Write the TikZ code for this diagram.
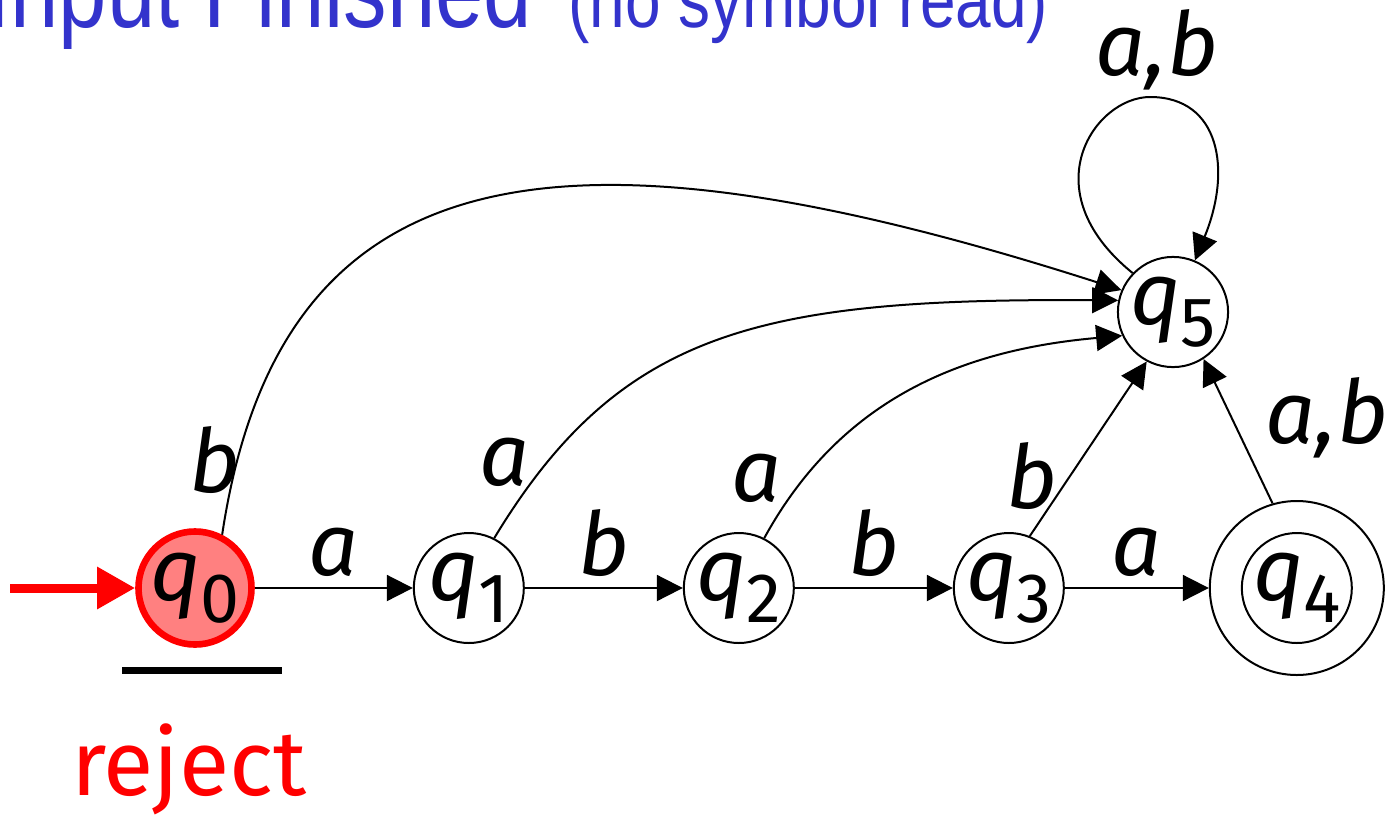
\documentclass[tikz,border=0pt]{standalone}
\usepackage{fontspec}
\usepackage{xcolor}
\usetikzlibrary{arrows.meta,positioning}
\newfontfamily\comicfont{Fira Sans}
\newfontfamily\titlefont{Liberation Sans}
\definecolor{cred}{HTML}{FF0000}
\definecolor{credL}{HTML}{FF8080}
\definecolor{cblue}{HTML}{3333CC}
\newcommand\stq[1]{q\kern-0.5pt\raisebox{-11pt}{\upshape\fontsize{35}{35}\selectfont #1}}
\tikzset{
  st/.style={draw, circle, line width=1pt, minimum size=55pt, inner sep=0pt,
             font=\comicfont\itshape\fontsize{44}{44}\selectfont},
  stnow/.style={st, draw=cred, fill=credL, line width=3.3pt, minimum size=54.7pt},
  stacc/.style={st, minimum size=87pt,
                path picture={\draw[line width=1pt] (path picture bounding box.center) circle[radius=27.5pt];}},
  lbl/.style={inner sep=0pt, font=\comicfont\itshape\fontsize{44}{44}\selectfont},
  ttl/.style={inner sep=0pt, text=cblue, font=\titlefont\fontsize{53}{53}\selectfont},
  ttlsmall/.style={ttl, font=\titlefont\fontsize{39}{39}\selectfont},
  rej/.style={inner sep=0pt, text=cred, font=\comicfont\fontsize{46}{46}\selectfont},
  trans/.style={-{Triangle[length=13pt,width=13pt]}, line width=1pt},
  startarr/.style={-{Triangle[length=19pt,width=20pt]}, line width=4.5pt, draw=cred},
}
\begin{document}
\begin{tikzpicture}[x=0.5pt, y=-0.5pt, node distance=79pt]
  \useasboundingbox (0,0) rectangle (1397,815);
  % title, cut by the page edge
  \node[ttl, anchor=base west] (ttl) at (-14,27) {\scalebox{0.82}[1]{Input Finished}};
  \node[ttlsmall, anchor=base west] (ttl2) at (568,27) {\scalebox{0.82}[1]{(no symbol read)}};
  % states
  \node[stnow] (q0) at (195,588) {\stq{0}};
  \node[st, right=of q0] (q1) {\stq{1}};
  \node[st, right=of q1] (q2) {\stq{2}};
  \node[st, right=of q2] (q3) {\stq{3}};
  \node[stacc, right=72pt of q3] (q4) {\stq{4}};
  \node[st] (q5) at (1173,312) {\stq{5}};
  % start arrow
  \coordinate (start) at (10,588);
  \draw[startarr] (start) -- (q0);
  % transitions
  \foreach \p/\q/\l in {q0/q1/a,q1/q2/b,q2/q3/b,q3/q4/a}
    \draw[trans] (\p) -- node[lbl, above=5pt] (l\p) {\l} (\q);
  \draw[trans] (q0.63) .. controls (280,150) and (560,110) .. (q5.157);
  \draw[trans] (q1.63) .. controls (620,330) and (760,298) .. (q5.168);
  \draw[trans] (q2.63) .. controls (840,400) and (960,350) .. (q5.205);
  \draw[trans] (q3.68) -- (q5.242);
  \draw[trans] (q4.106) -- (q5.303);
  \draw[trans] (q5.136) .. controls (1030,190) and (1095,97) .. (1150,97)
               .. controls (1220,97) and (1232,170) .. (q5.67);
  \node[lbl] (lb05) at (215,460) {b};
  \node[lbl] (la15) at (505,462) {a};
  \node[lbl] (la25) at (757,478) {a};
  \node[lbl] (lb35) at (1032,476) {b};
  \node[lbl] (lab45) at (1327,418) {a,b};
  \node[lbl] (lab55) at (1157,50) {a,b};
  % reject
  \draw[line width=3.5pt] (122,670) -- (282,670);
  \node[rej, anchor=base] (rej) at (189,795) {reject};
\end{tikzpicture}
\end{document}
